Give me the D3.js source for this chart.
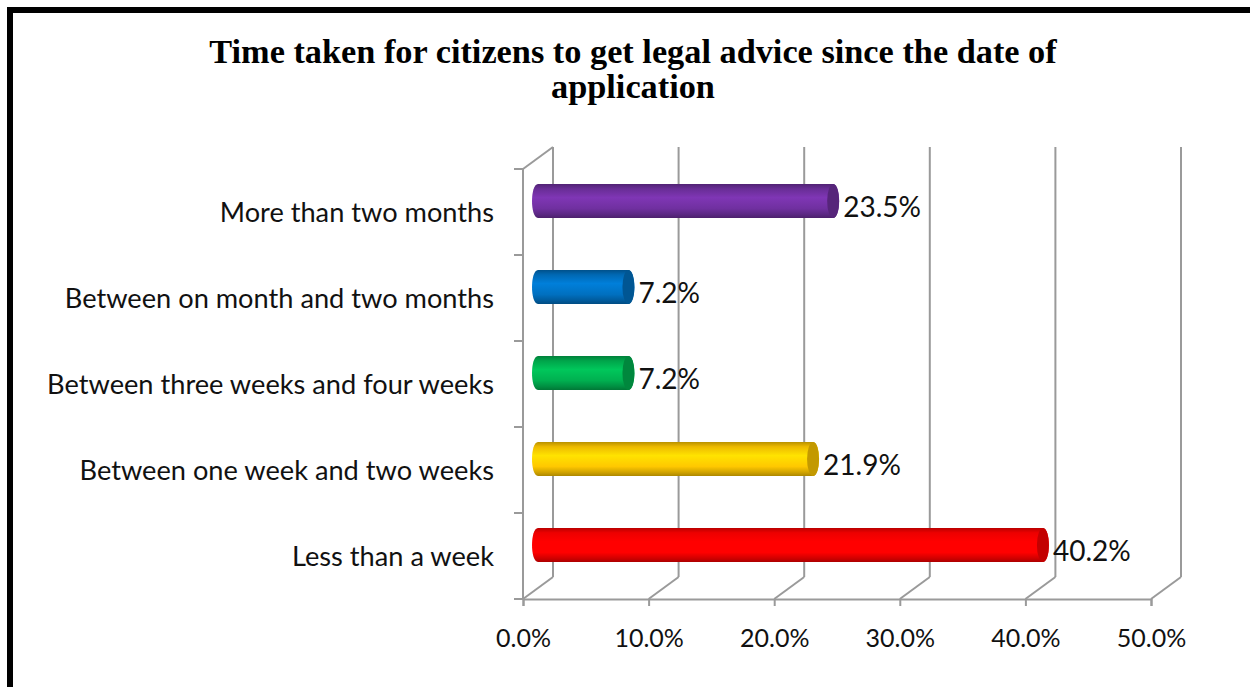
<!DOCTYPE html>
<html>
<head>
<meta charset="utf-8">
<script src="https://cdn.jsdelivr.net/npm/d3@7"></script>
<style>
  body { margin: 0; background: #fff; }
  svg { display: block; }
</style>
</head>
<body>
<script>
// Categories listed bottom to top, as the bars are stacked on the chart
const categories = [
  "Less than a week",
  "Between one week and two weeks",
  "Between three weeks and four weeks",
  "Between on month and two months",
  "More than two months"
];
const values = [40.2, 21.9, 7.2, 7.2, 23.5];
const barColors = ["#FF0000", "#FFC800", "#00B050", "#0070C0", "#7030A0"];
const xTicks = [0, 10, 20, 30, 40, 50];
const titleLines = [
  "Time taken for citizens to get legal advice since the date of",
  "application"
];

(function draw() {
  const W = 1250, H = 687;
  const svg = d3.select("body").append("svg").attr("width", W).attr("height", H);

  // Outer frame
  svg.append("rect")
    .attr("x", 10).attr("y", 10)
    .attr("width", 1300).attr("height", 700)
    .attr("fill", "#fff").attr("stroke", "#000").attr("stroke-width", 6);

  // Title
  svg.append("g").selectAll("text").data(titleLines).join("text")
    .attr("x", 633).attr("y", (d, i) => 63 + i * 35)
    .attr("text-anchor", "middle")
    .attr("font-family", "'Liberation Serif', serif")
    .attr("font-weight", "bold")
    .attr("font-size", 34.3)
    .attr("fill", "#000")
    .text(d => d);

  // Plot geometry: front plane plus a depth offset for the back wall
  const pLeft = 523, pRight = 1151, pTop = 169, pBottom = 599;
  const depthX = 30, depthY = -22;
  const gridColor = "#9a9a9a";

  const x = d3.scaleLinear().domain([0, 50]).range([pLeft, pRight]);
  const y = d3.scaleBand().domain(categories.slice().reverse()).range([pTop, pBottom]);

  const frame = svg.append("g").attr("stroke", gridColor).attr("stroke-width", 2).attr("fill", "none");

  // Back-wall vertical gridlines
  frame.selectAll("line.grid").data(xTicks).join("line").attr("class", "grid")
    .attr("x1", d => x(d) + depthX).attr("x2", d => x(d) + depthX)
    .attr("y1", pTop + depthY).attr("y2", pBottom + depthY);

  // Floor diagonals
  frame.selectAll("line.floor").data(xTicks).join("line").attr("class", "floor")
    .attr("x1", d => x(d)).attr("x2", d => x(d) + depthX)
    .attr("y1", pBottom).attr("y2", pBottom + depthY);

  // Left wall: front edge, top diagonal and category ticks
  frame.append("line")
    .attr("x1", pLeft).attr("x2", pLeft).attr("y1", pTop).attr("y2", pBottom);
  frame.append("line")
    .attr("x1", pLeft).attr("x2", pLeft + depthX).attr("y1", pTop).attr("y2", pTop + depthY);
  const bandEdges = categories.map(c => y(c)).concat([pBottom]);
  frame.selectAll("line.ytick").data(bandEdges).join("line").attr("class", "ytick")
    .attr("x1", pLeft - 9).attr("x2", pLeft).attr("y1", d => d).attr("y2", d => d);

  // Bottom axis: floor front edge, ticks and percent labels
  const xAxis = d3.axisBottom(x)
    .tickValues(xTicks)
    .tickSize(7)
    .tickSizeOuter(7)
    .tickPadding(23)
    .tickFormat(d => d.toFixed(1) + "%");
  const axisG = svg.append("g").attr("transform", `translate(0,${pBottom})`).call(xAxis);
  axisG.attr("font-family", null).attr("font-size", null);
  axisG.selectAll("path, line").attr("stroke", gridColor).attr("stroke-width", 2);
  axisG.selectAll("text")
    .attr("font-family", "Lato, sans-serif")
    .attr("font-size", 25)
    .attr("fill", "#111");

  // Category labels
  svg.append("g").selectAll("text").data(categories).join("text")
    .attr("x", 494)
    .attr("y", d => y(d) + y.bandwidth() / 2 + 10)
    .attr("text-anchor", "end")
    .attr("font-family", "Lato, sans-serif")
    .attr("font-size", 27.2)
    .attr("fill", "#111")
    .text(d => d);

  // Cylinder gradients
  const defs = svg.append("defs");
  barColors.forEach((c, i) => {
    const base = d3.color(c);
    const g = defs.append("linearGradient")
      .attr("id", "cyl" + i).attr("x1", 0).attr("y1", 0).attr("x2", 0).attr("y2", 1);
    g.append("stop").attr("offset", "0%").attr("stop-color", base.darker(0.9));
    g.append("stop").attr("offset", "14%").attr("stop-color", base.darker(0.2));
    g.append("stop").attr("offset", "40%").attr("stop-color", base.brighter(0.35));
    g.append("stop").attr("offset", "72%").attr("stop-color", base);
    g.append("stop").attr("offset", "90%").attr("stop-color", base.darker(0.6));
    g.append("stop").attr("offset", "100%").attr("stop-color", base.darker(1.1));
  });

  // Cylinders sit midway in depth
  const ry = 17, rx = 6;
  const bars = svg.append("g").selectAll("g").data(categories).join("g");
  bars.each(function(c, i) {
    const cy = y(c) + y.bandwidth() / 2 + depthY / 2;
    const x0 = x(0) + depthX / 2;
    const x1 = x(values[i]) + depthX / 2;
    const g = d3.select(this);
    const p = d3.path();
    p.moveTo(x0, cy - ry);
    p.lineTo(x1, cy - ry);
    p.bezierCurveTo(x1 + rx * 1.33, cy - ry, x1 + rx * 1.33, cy + ry, x1, cy + ry);
    p.lineTo(x0, cy + ry);
    p.bezierCurveTo(x0 - rx * 1.33, cy + ry, x0 - rx * 1.33, cy - ry, x0, cy - ry);
    p.closePath();
    g.append("path").attr("d", p.toString()).attr("fill", `url(#cyl${i})`);
    // End face
    g.append("ellipse")
      .attr("cx", x1).attr("cy", cy).attr("rx", rx).attr("ry", ry)
      .attr("fill", d3.color(barColors[i]).darker(0.75));
    // Value label
    g.append("text")
      .attr("x", x1 + rx + 4).attr("y", cy + 15.5)
      .attr("font-family", "Lato, sans-serif")
      .attr("font-size", 28)
      .attr("fill", "#111")
      .text(values[i].toFixed(1) + "%");
  });
})();
</script>
</body>
</html>
